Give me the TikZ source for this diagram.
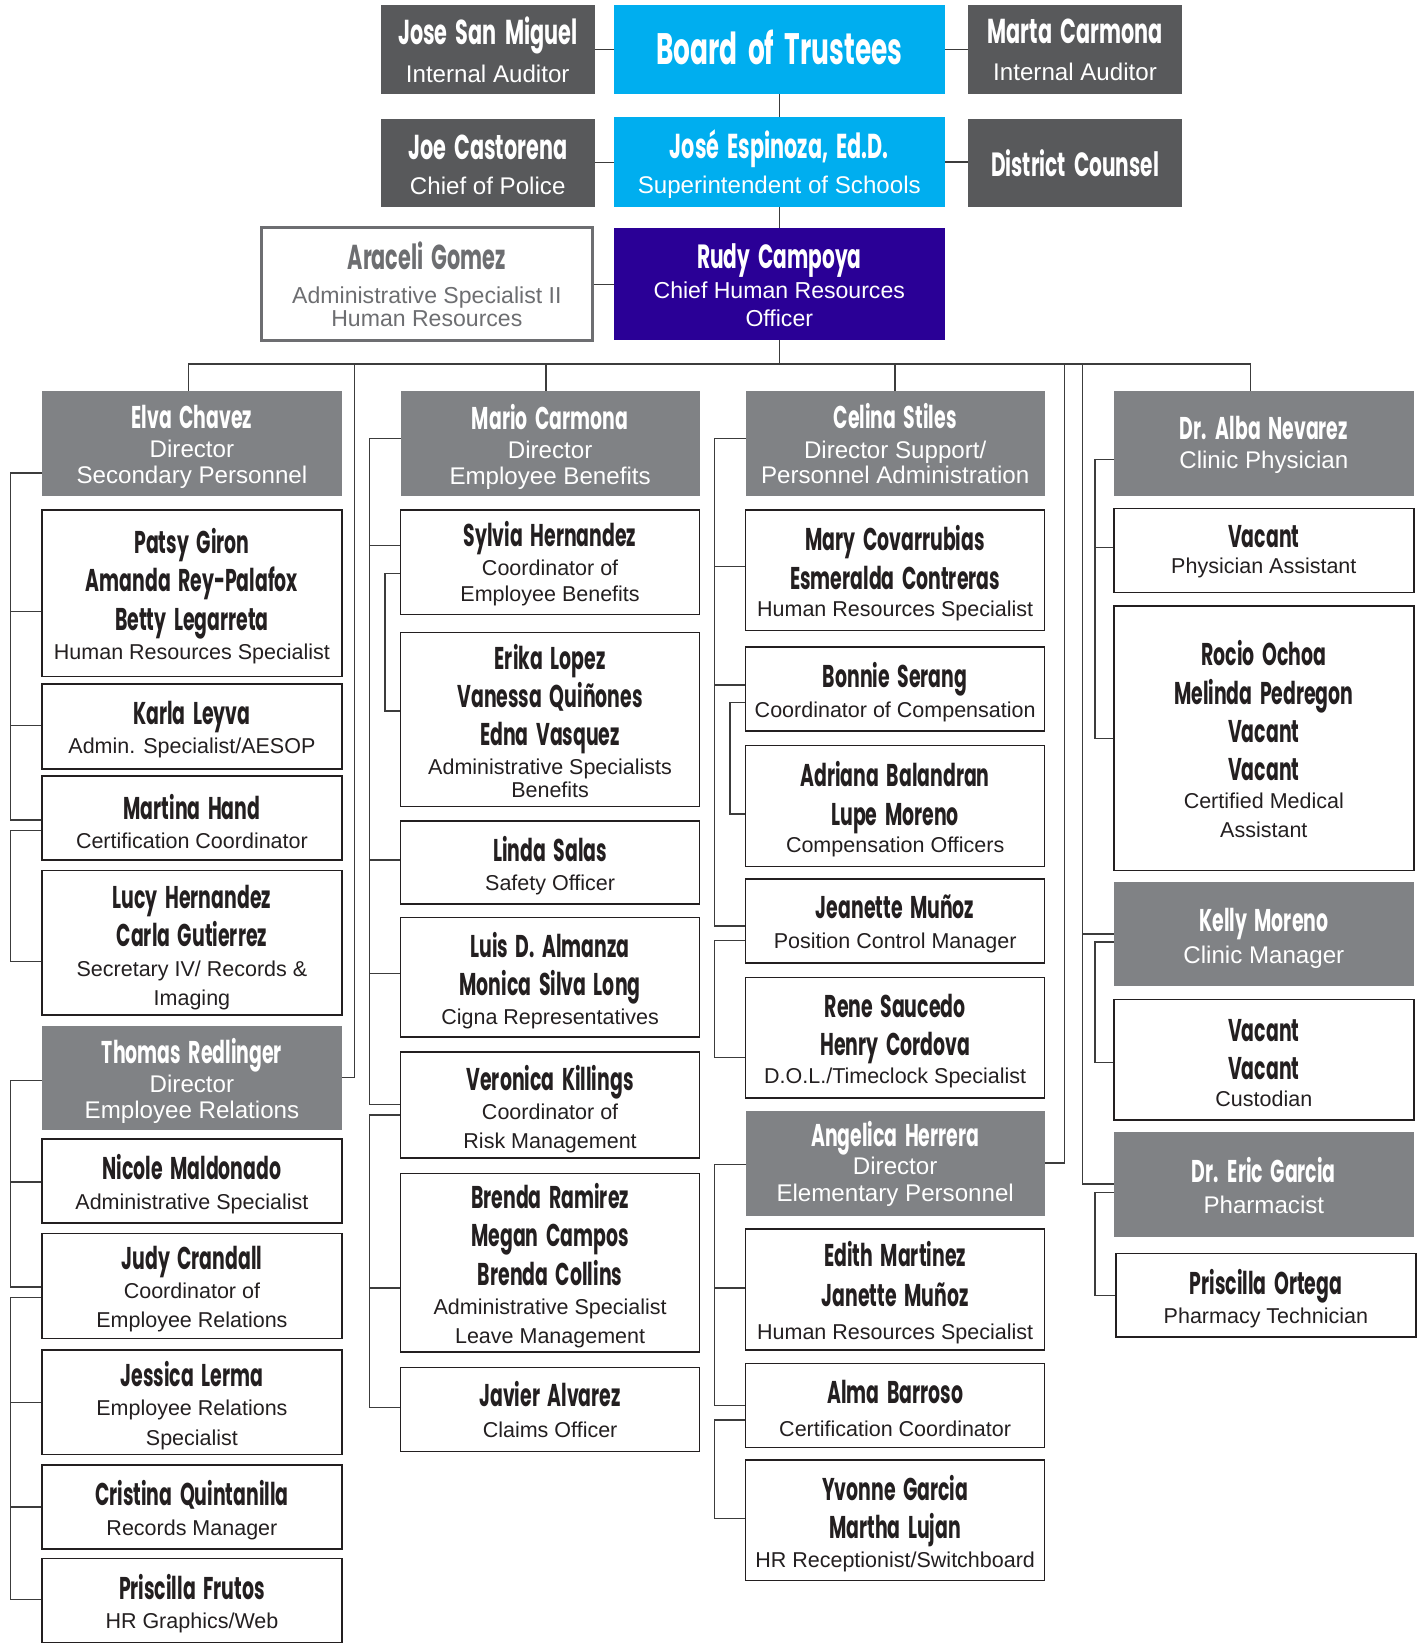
\documentclass[tikz,border=0pt]{standalone}
\usepackage{fontspec}
\setmainfont{Liberation Sans}
\newfontfamily\nmfont{Poppins}[FakeStretch=0.6]
\usetikzlibrary{backgrounds}
\definecolor{darkbox}{HTML}{58595B}
\definecolor{cyanbox}{HTML}{00AEEF}
\definecolor{purplebox}{HTML}{2A0096}
\definecolor{dirbox}{HTML}{808285}
\definecolor{linec}{HTML}{3C3C3C}
\definecolor{ink}{HTML}{231F20}
\definecolor{agray}{HTML}{6D6E71}
\setlength\parindent{0pt}
\newcommand\NL[3]{{\nmfont\bfseries\fontsize{#1}{#2}\selectfont\spaceskip=0.24em\relax\hbox to\hsize{\hss#3\hss}}}
\newcommand\TL[3]{{\fontsize{#1}{#2}\selectfont\hbox to\hsize{\hss#3\hss}}}
\newcommand\nm[1]{\NL{30}{36.5}{#1}}
\newcommand\tf[1]{\TL{20.5}{28}{#1}}
\newcommand\tn[1]{\TL{20.5}{28}{#1}}
\newcommand\bx[8][6]{%
  \pgfmathsetmacro\bxw{#6-#4}\pgfmathsetmacro\bxh{#7-#5}%
  \pgfmathsetmacro\bxt{#6-#4-6}\pgfmathsetmacro\bxx{(#4+#6)/2}\pgfmathsetmacro\bxy{(#5+#7)/2}%
  \node[box,#3,minimum width=\bxw pt,minimum height=\bxh pt] (#2) at (\bxx,\bxy) {\vbox{\hsize=\bxt pt\relax\kern#1pt\relax #8}};}
\newcommand\spine[5]{\draw[conn] (#1.west |- 0,#2) -| (#3,#5) -- (#4.west |- 0,#5);}
\newcommand\tick[3]{\draw[conn] (#1.west |- 0,#3) -- (#2,#3);}
\tikzset{
  box/.style={rectangle,inner sep=0pt,outer sep=0pt},
  tdark/.style={fill=darkbox,text=white},
  tcyan/.style={fill=cyanbox,text=white},
  tpurple/.style={fill=purplebox,text=white},
  dir/.style={fill=dirbox,text=white},
  wbox/.style={draw=ink,line width=1.5pt,fill=white,text=ink},
  agbox/.style={draw=agray,line width=3pt,fill=white,text=agray},
  conn/.style={draw=linec,line width=1.3pt}
}
\begin{document}
\begin{tikzpicture}[x=1pt,y=-1pt]
\useasboundingbox (0,0) rectangle (1354,1567.5);
% top
\bx[0]{jsm}{tdark}{363}{5}{567}{90}{\NL{33}{40}{Jose San Miguel}\TL{23}{36}{Internal Auditor}}
\bx[-4]{bot}{tcyan}{585}{5}{901}{90}{\NL{42}{50}{Board of Trustees}}
\bx[0]{mca}{tdark}{923}{5}{1127}{90}{\NL{33}{40}{Marta Carmona}\TL{23}{36}{Internal Auditor}}
\bx[4]{jc}{tdark}{363}{113}{567}{197}{\NL{33}{40}{Joe Castorena}\TL{23}{33}{Chief of Police}}
\bx[4]{je}{tcyan}{585}{112}{901}{197}{\NL{33}{40}{José Espinoza, Ed.D.}\TL{23}{34}{Superintendent of Schools}}
\bx[2]{dc}{tdark}{923}{113}{1127}{197}{\NL{32}{40}{District Counsel}}
\bx[0]{ag}{agbox}{249}{217}{565}{325}{\NL{33}{40}{Araceli Gomez}\TL{22}{33}{Administrative Specialist II}\TL{22}{22}{Human Resources}}
\bx[3]{rc}{tpurple}{585}{217}{901}{324}{\NL{32}{40}{Rudy Campoya}\TL{22}{29}{Chief Human Resources}\TL{22}{27}{Officer}}
% column 1
\bx{elva}{dir}{40}{373}{326}{473}{\NL{30}{37}{Elva Chavez}\TL{23}{28}{Director}\TL{23}{25}{Secondary Personnel}}
\bx{patsy}{wbox}{40}{486}{326}{645}{\nm{Patsy Giron}\nm{Amanda Rey-Palafox}\nm{Betty Legarreta}\tf{Human Resources Specialist}}
\bx{karla}{wbox}{40}{652}{326}{733}{\nm{Karla Leyva}\tf{Admin. Specialist/AESOP}}
\bx{martina}{wbox}{40}{740}{326}{820}{\nm{Martina Hand}\tf{Certification Coordinator}}
\bx[9]{lucy}{wbox}{40}{830}{326}{968}{\nm{Lucy Hernandez}\nm{Carla Gutierrez}\tf{Secretary IV/ Records \&}\tn{Imaging}}
\bx{thomas}{dir}{40}{978}{326}{1077}{\NL{30}{37}{Thomas Redlinger}\TL{23}{28}{Director}\TL{23}{25}{Employee Relations}}
\bx{nicole}{wbox}{40}{1086}{326}{1166}{\nm{Nicole Maldonado}\tf{Administrative Specialist}}
\bx{judy}{wbox}{40}{1176}{326}{1276}{\nm{Judy Crandall}\tf{Coordinator of}\tn{Employee Relations}}
\bx{jessica}{wbox}{40}{1287}{326}{1387}{\nm{Jessica Lerma}\tf{Employee Relations}\tn{Specialist}}
\bx{cristina}{wbox}{40}{1397}{326}{1477}{\nm{Cristina Quintanilla}\tf{Records Manager}}
\bx{pfrutos}{wbox}{40}{1486}{326}{1566}{\nm{Priscilla Frutos}\tf{HR Graphics/Web}}
% column 2
\bx{mario}{dir}{382}{373}{667}{473}{\NL{30}{37}{Mario Carmona}\TL{23}{28}{Director}\TL{23}{25}{Employee Benefits}}
\bx[3]{sylvia}{wbox}{382}{486}{667}{586}{\nm{Sylvia Hernandez}\tf{Coordinator of}\TL{20.5}{25}{Employee Benefits}}
\bx[2]{erika}{wbox}{382}{603}{667}{769}{\nm{Erika Lopez}\nm{Vanessa Quiñones}\nm{Edna Vasquez}\tf{Administrative Specialists}\TL{20.5}{21}{Benefits}}
\bx{linda}{wbox}{382}{783}{667}{862}{\nm{Linda Salas}\tf{Safety Officer}}
\bx{luis}{wbox}{382}{875}{667}{989}{\nm{Luis D. Almanza}\nm{Monica Silva Long}\tf{Cigna Representatives}}
\bx[8]{veronica}{wbox}{382}{1003}{667}{1104}{\nm{Veronica Killings}\tf{Coordinator of}\tn{Risk Management}}
\bx{brenda}{wbox}{382}{1119}{667}{1289}{\nm{Brenda Ramirez}\nm{Megan Campos}\nm{Brenda Collins}\tf{Administrative Specialist}\tn{Leave Management}}
\bx[0]{javier}{wbox}{382}{1304}{667}{1384}{\nm{Javier Alvarez}\TL{20.5}{30}{Claims Officer}}
% column 3
\bx[0]{celina}{dir}{711}{373}{996}{473}{\NL{30}{37}{Celina Stiles}\TL{23}{29}{Director Support/}\TL{23}{24}{Personnel Administration}}
\bx{mary}{wbox}{711}{486}{996}{601}{\nm{Mary Covarrubias}\nm{Esmeralda Contreras}\TL{20.5}{26}{Human Resources Specialist}}
\bx{bonnie}{wbox}{711}{617}{996}{697}{\nm{Bonnie Serang}\tf{Coordinator of Compensation}}
\bx{adriana}{wbox}{711}{711}{996}{826}{\nm{Adriana Balandran}\nm{Lupe Moreno}\TL{20.5}{26}{Compensation Officers}}
\bx{jeanette}{wbox}{711}{838}{996}{918}{\nm{Jeanette Muñoz}\tf{Position Control Manager}}
\bx{rene}{wbox}{711}{932}{996}{1047}{\nm{Rene Saucedo}\nm{Henry Cordova}\TL{20.5}{26}{D.O.L./Timeclock Specialist}}
\bx[1]{angelica}{dir}{711}{1059}{996}{1159}{\NL{30}{37}{Angelica Herrera}\TL{23}{27}{Director}\TL{23}{25.5}{Elementary Personnel}}
\bx{edith}{wbox}{711}{1172}{996}{1287}{\NL{30}{38}{Edith Martinez}\NL{30}{38}{Janette Muñoz}\TL{20.5}{31}{Human Resources Specialist}}
\bx{alma}{wbox}{711}{1300}{996}{1380}{\nm{Alma Barroso}\TL{20.5}{31}{Certification Coordinator}}
\bx{yvonne}{wbox}{711}{1392}{996}{1507}{\nm{Yvonne Garcia}\nm{Martha Lujan}\TL{20.5}{27}{HR Receptionist/Switchboard}}
% column 4
\bx[2]{alba}{dir}{1062}{373}{1348}{473}{\NL{30}{37}{Dr. Alba Nevarez}\TL{23}{28}{Clinic Physician}}
\bx[2]{vaca}{wbox}{1062}{485}{1348}{565}{\nm{Vacant}\TL{20.5}{25}{Physician Assistant}}
\bx[2]{rocio}{wbox}{1062}{578}{1348}{830}{\nm{Rocio Ochoa}\nm{Melinda Pedregon}\nm{Vacant}\nm{Vacant}\TL{20.5}{26.5}{Certified Medical}\tn{Assistant}}
\bx[8]{kelly}{dir}{1062}{841}{1348}{940}{\NL{30}{37}{Kelly Moreno}\TL{23}{30}{Clinic Manager}}
\bx{vacb}{wbox}{1062}{953}{1348}{1068}{\nm{Vacant}\nm{Vacant}\TL{20.5}{26}{Custodian}}
\bx[3]{eric}{dir}{1062}{1079}{1348}{1179}{\NL{30}{37}{Dr. Eric Garcia}\TL{23}{29}{Pharmacist}}
\bx{ortega}{wbox}{1064}{1195}{1350}{1275}{\nm{Priscilla Ortega}\TL{20.5}{28}{Pharmacy Technician}}
% connectors
\begin{scope}[on background layer]
\fill[white] (0,0) rectangle (1354,1567.5);
\draw[conn] (jsm) -- (bot);
\draw[conn] (bot) -- (mca);
\draw[conn] (bot) -- (je);
\draw[conn] (jc.east) -- (jc.east -| je.west);
\draw[conn] (je.east) -- (je.east -| dc.west);
\draw[conn] (je) -- (rc);
\draw[conn] (ag.east) -- (ag.east -| rc.west);
\coordinate (busy) at (0,347);
\coordinate (albatop) at ([xshift=-13pt]alba.north);
\coordinate (mariotop) at ([xshift=-4pt]mario.north);
\coordinate (elvatop) at ([xshift=-3pt]elva.north);
\draw[conn] (rc.south) -- (rc.south |- busy);
\draw[conn] (elvatop) -- (elvatop |- busy) -- (albatop |- busy) -- (albatop);
\draw[conn] (mariotop) -- (mariotop |- busy);
\draw[conn] (celina.north) -- (celina.north |- busy);
\coordinate (sp1) at (338,347);
\coordinate (sp2) at (1015,347);
\coordinate (sp3) at (1032,347);
\draw[conn] (thomas.east) -| (sp1);
\draw[conn] (angelica.east) -| (sp2);
\draw[conn] (eric.west) -| (sp3);
\draw[conn] (kelly.west) -- (kelly.west -| sp3);
% column 1
\spine{elva}{451}{10}{martina}{782}
\tick{patsy}{10}{583}
\tick{karla}{10}{692}
\spine{martina}{792}{10}{lucy}{917}
\spine{thomas}{1030}{10}{judy}{1227}
\tick{nicole}{10}{1127}
\spine{judy}{1237}{10}{pfrutos}{1525}
\tick{jessica}{10}{1337}
\tick{cristina}{10}{1437}
% column 2
\spine{mario}{418}{352}{veronica}{1053}
\tick{sylvia}{352}{520}
\tick{linda}{352}{820}
\tick{luis}{352}{928}
\spine{sylvia}{547}{367}{erika}{678}
\spine{veronica}{1063}{352}{javier}{1342}
\tick{brenda}{352}{1228}
% column 3
\spine{celina}{418}{681}{jeanette}{883}
\tick{mary}{681}{540}
\tick{bonnie}{681}{653}
\spine{bonnie}{670}{696}{adriana}{776}
\spine{jeanette}{897}{681}{rene}{1008}
\spine{angelica}{1110}{681}{alma}{1340}
\tick{edith}{681}{1228}
\spine{alma}{1354}{681}{yvonne}{1448}
% column 4
\spine{alba}{438}{1044}{rocio}{704}
\tick{vaca}{1044}{522}
\spine{kelly}{898}{1044}{vacb}{1013}
\spine{eric}{1137}{1044}{ortega}{1235}
\end{scope}
\end{tikzpicture}
\end{document}
